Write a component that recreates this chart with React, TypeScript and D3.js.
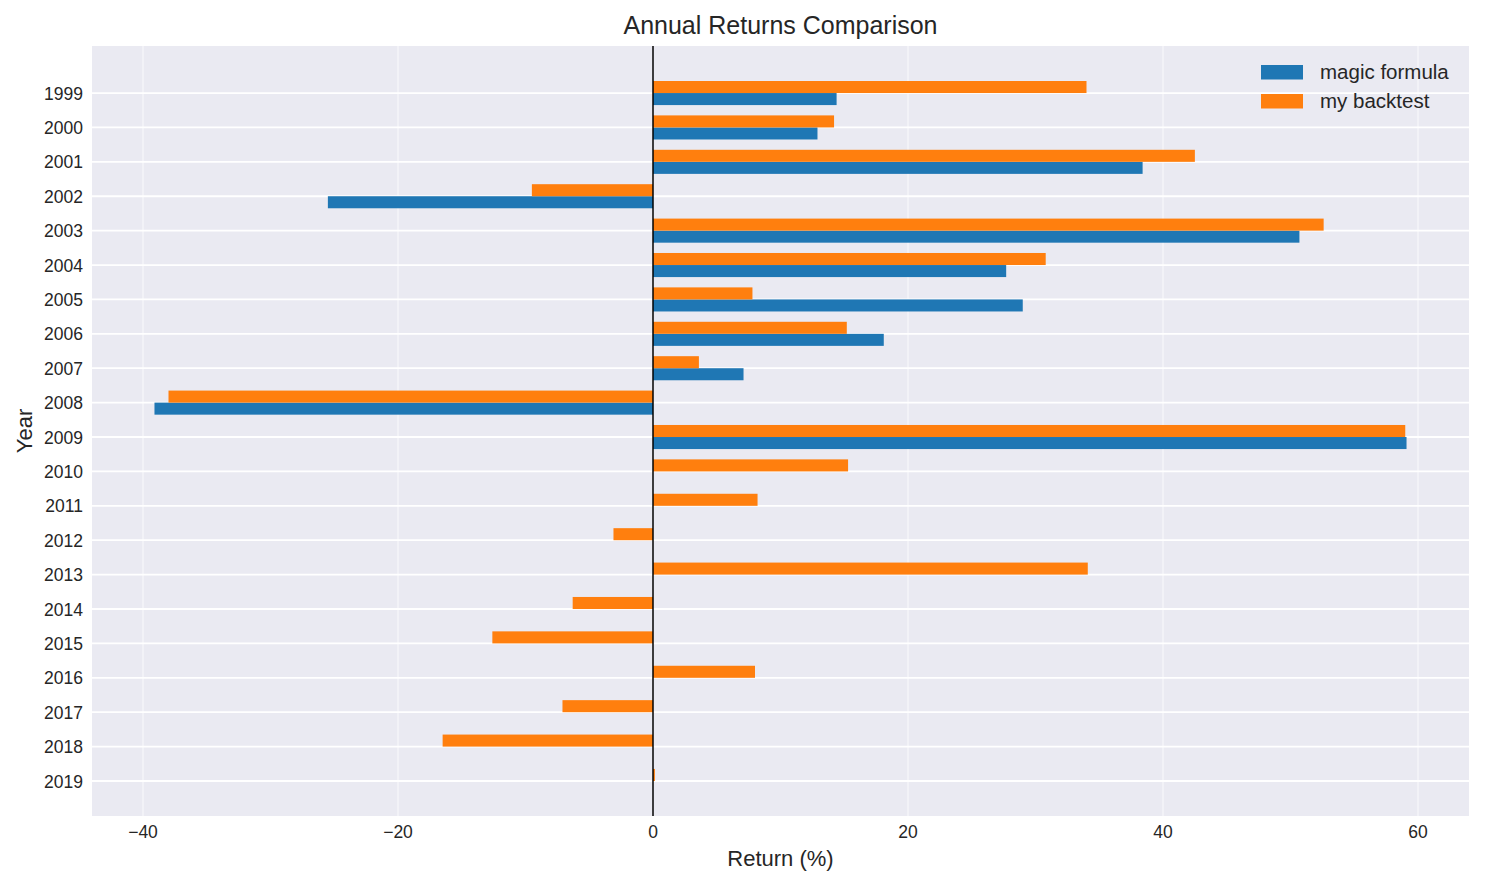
import React, { useEffect, useRef } from "react";
import * as d3 from "d3";

const years = [
  "1999", "2000", "2001", "2002", "2003", "2004", "2005", "2006", "2007", "2008",
  "2009", "2010", "2011", "2012", "2013", "2014", "2015", "2016", "2017", "2018", "2019",
];

// magic formula only covers 1999-2009
const magicFormula: (number | null)[] = [
  14.4, 12.9, 38.4, -25.5, 50.7, 27.7, 29.0, 18.1, 7.1, -39.1, 59.1,
  null, null, null, null, null, null, null, null, null, null,
];

const myBacktest = [
  34.0, 14.2, 42.5, -9.5, 52.6, 30.8, 7.8, 15.2, 3.6, -38.0, 59.0,
  15.3, 8.2, -3.1, 34.1, -6.3, -12.6, 8.0, -7.1, -16.5, 0.15,
];

const xTicks = [-40, -20, 0, 20, 40, 60];

const W = 1485;
const H = 885;
const FONT = "'Liberation Sans', Arial, sans-serif";

const App: React.FC = () => {
  const ref = useRef<SVGSVGElement | null>(null);

  useEffect(() => {
    if (!ref.current) return;
    const svg = d3.select(ref.current);
    svg.selectAll("*").remove();

    const left = 92, right = 1469, top = 46, bottom = 816;
    const x = d3.scaleLinear().domain([-44, 64]).range([left, right]);
    const y = d3.scaleLinear().domain([-1.3675, 21.0175]).range([top, bottom]);
    const barH = y(0.35) - y(0);

    svg.append("rect").attr("width", W).attr("height", H).attr("fill", "white");

    // plot background
    svg.append("rect")
      .attr("x", left).attr("y", top)
      .attr("width", right - left).attr("height", bottom - top)
      .attr("fill", "#eaeaf2");

    // grid
    svg.append("g").selectAll("line").data(xTicks).enter().append("line")
      .attr("x1", d => x(d)).attr("x2", d => x(d))
      .attr("y1", top).attr("y2", bottom)
      .attr("stroke", "white").attr("stroke-opacity", 0.5).attr("stroke-width", 1.5);
    svg.append("g").selectAll("line").data(years).enter().append("line")
      .attr("x1", left).attr("x2", right)
      .attr("y1", (_, i) => y(i)).attr("y2", (_, i) => y(i))
      .attr("stroke", "white").attr("stroke-width", 1.8);

    // bars
    const bars = svg.append("g");
    bars.selectAll(".mf").data(magicFormula).enter()
      .filter(d => d !== null)
      .append("rect")
      .attr("x", d => x(Math.min(0, d as number)))
      .attr("width", d => Math.abs(x(d as number) - x(0)))
      .attr("y", (_, i) => y(i))
      .attr("height", barH)
      .attr("fill", "#1f77b4");
    bars.selectAll(".bt").data(myBacktest).enter().append("rect")
      .attr("x", d => x(Math.min(0, d)))
      .attr("width", d => Math.abs(x(d) - x(0)))
      .attr("y", (_, i) => y(i) - barH)
      .attr("height", barH)
      .attr("fill", "#ff7f0e");

    // zero line
    svg.append("line")
      .attr("x1", x(0)).attr("x2", x(0))
      .attr("y1", top).attr("y2", bottom)
      .attr("stroke", "black").attr("stroke-width", 1.5);

    // tick labels
    svg.append("g").selectAll("text").data(xTicks).enter().append("text")
      .attr("x", d => x(d)).attr("y", 838)
      .attr("text-anchor", "middle")
      .attr("font-family", FONT).attr("font-size", 17.5).attr("fill", "#262626")
      .text(d => (d < 0 ? "\u2212" + Math.abs(d) : String(d)));
    svg.append("g").selectAll("text").data(years).enter().append("text")
      .attr("x", 83).attr("y", (_, i) => y(i) + 6.5)
      .attr("text-anchor", "end")
      .attr("font-family", FONT).attr("font-size", 17.5).attr("fill", "#262626")
      .text(d => d);

    // titles
    svg.append("text")
      .attr("x", (left + right) / 2).attr("y", 34)
      .attr("text-anchor", "middle")
      .attr("font-family", FONT).attr("font-size", 25).attr("fill", "#262626")
      .text("Annual Returns Comparison");
    svg.append("text")
      .attr("x", (left + right) / 2).attr("y", 866)
      .attr("text-anchor", "middle")
      .attr("font-family", FONT).attr("font-size", 22).attr("fill", "#262626")
      .text("Return (%)");
    svg.append("text")
      .attr("transform", `translate(32,${(top + bottom) / 2}) rotate(-90)`)
      .attr("text-anchor", "middle")
      .attr("font-family", FONT).attr("font-size", 22).attr("fill", "#262626")
      .text("Year");

    // legend
    const legend = svg.append("g");
    [["magic formula", "#1f77b4"], ["my backtest", "#ff7f0e"]].forEach(([name, color], i) => {
      legend.append("rect")
        .attr("x", 1261).attr("y", 65 + i * 29)
        .attr("width", 42).attr("height", 14.5)
        .attr("fill", color);
      legend.append("text")
        .attr("x", 1320).attr("y", 79 + i * 29)
        .attr("font-family", FONT).attr("font-size", 20.5).attr("fill", "#262626")
        .text(name);
    });
  }, []);

  return (
    <svg
      ref={ref}
      width={W}
      height={H}
      style={{ position: "absolute", left: 0, top: 0 }}
    />
  );
};

export default App;
